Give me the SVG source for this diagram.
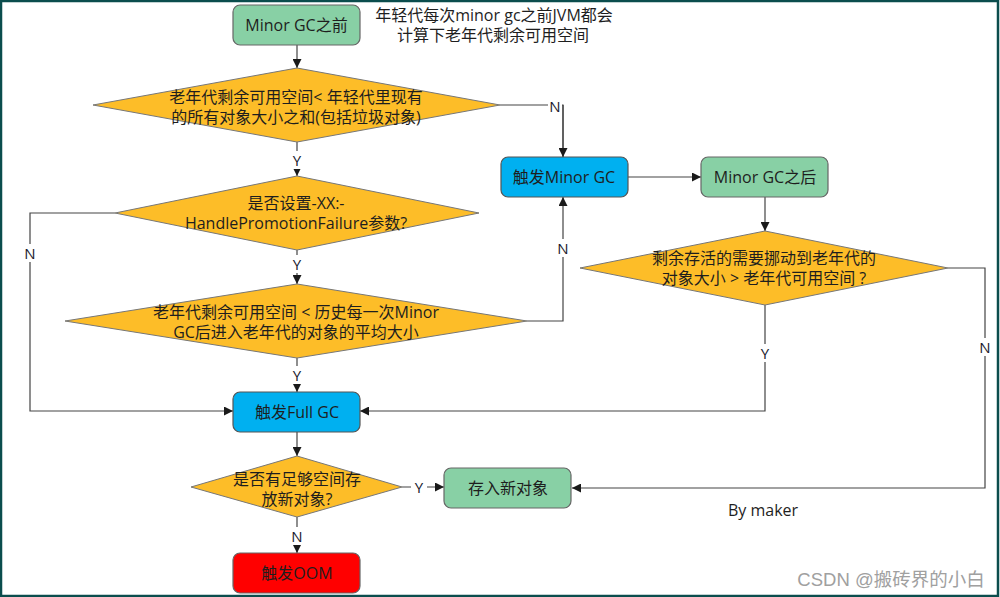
<svg xmlns="http://www.w3.org/2000/svg" width="1000" height="597" viewBox="0 0 1000 597">
<defs>
<marker id="ah" viewBox="0 0 10 10" refX="10" refY="5" markerWidth="9" markerHeight="9" markerUnits="userSpaceOnUse" orient="auto">
<path d="M0,0 L10,5 L0,10 z" fill="#1a1a1a"/>
</marker>
<style>
.t{font-family:"Open Sans","Noto Sans CJK SC",sans-serif;font-size:16px;fill:#1e1e1e;text-anchor:middle;dominant-baseline:central}
.lb{font-family:"Open Sans","Noto Sans CJK SC",sans-serif;font-size:15px;fill:#1a1a2e;text-anchor:middle;dominant-baseline:central}
.g{fill:#88d0a5;stroke:#666;stroke-width:1.2}
.b{fill:#00b0f0;stroke:#555;stroke-width:1.2}
.r{fill:#ff0000;stroke:#666;stroke-width:1.2}
.d{fill:#fdbd28;stroke:#777;stroke-width:1}
.c{fill:none;stroke:#444;stroke-width:1.2}
.a{marker-end:url(#ah)}
</style>
</defs>
<rect x="0" y="0" width="1000" height="597" fill="#ffffff"/>
<rect x="1" y="1" width="997" height="595" fill="none" stroke="#0b4d4d" stroke-width="2.5"/>

<g id="connectors">
<path class="c a" d="M297,45 V68"/>
<path class="c" d="M500,105 H563 V157"/>
<path class="c a" d="M563,105 V157"/>
<path class="c a" d="M297,142 V176"/>
<path class="c a" d="M628,177 H701"/>
<path class="c a" d="M765,197 V231"/>
<path class="c a" d="M297,250 V284"/>
<path class="c a" d="M115,213 H30 V411 H233"/>
<path class="c a" d="M527,321 H563 V197"/>
<path class="c a" d="M297,358 V392"/>
<path class="c a" d="M765,305 V411 H360"/>
<path class="c a" d="M948,268 H985 V488 H572"/>
<path class="c a" d="M297,432 V456"/>
<path class="c a" d="M402,487 H444"/>
<path class="c a" d="M297,517 V553"/>
</g>

<g id="labels">
<rect x="548" y="97" width="14" height="17" fill="#fff"/><text class="lb" x="555" y="106">N</text>
<rect x="289" y="151" width="16" height="18" fill="#fff"/><text class="lb" x="297" y="160">Y</text>
<rect x="22" y="244" width="16" height="18" fill="#fff"/><text class="lb" x="30" y="253">N</text>
<rect x="289" y="255" width="16" height="18" fill="#fff"/><text class="lb" x="297" y="264">Y</text>
<rect x="555" y="239" width="16" height="18" fill="#fff"/><text class="lb" x="563" y="248">N</text>
<rect x="289" y="366" width="16" height="18" fill="#fff"/><text class="lb" x="297" y="375">Y</text>
<rect x="757" y="344" width="16" height="18" fill="#fff"/><text class="lb" x="765" y="353">Y</text>
<rect x="977" y="338" width="16" height="18" fill="#fff"/><text class="lb" x="985" y="347">N</text>
<rect x="411" y="478" width="16" height="18" fill="#fff"/><text class="lb" x="419" y="487">Y</text>
<rect x="289" y="527" width="16" height="18" fill="#fff"/><text class="lb" x="297" y="536">N</text>
</g>

<g id="n_before">
<rect class="g" x="233" y="5" width="127" height="40" rx="7"/>
<text class="t" x="296.5" y="25">Minor GC之前</text>
</g>
<g id="n_note">
<text class="t" x="494" y="15">年轻代每次minor gc之前JVM都会</text>
<text class="t" x="493" y="35">计算下老年代剩余可用空间</text>
</g>
<g id="d1">
<polygon class="d" points="297,68 500,105 297,142 93,105"/>
<text class="t" x="296" y="97">老年代剩余可用空间&lt; 年轻代里现有</text>
<text class="t" x="296" y="117">的所有对象大小之和(包括垃圾对象)</text>
</g>
<g id="n_minor">
<rect class="b" x="501" y="157" width="127" height="40" rx="7"/>
<text class="t" x="564" y="177">触发Minor GC</text>
</g>
<g id="n_after">
<rect class="g" x="701" y="157" width="127" height="40" rx="7"/>
<text class="t" x="765" y="177">Minor GC之后</text>
</g>
<g id="d2">
<polygon class="d" points="297,176 479,213 297,250 115,213"/>
<text class="t" x="296" y="203">是否设置-XX:-</text>
<text class="t" x="296" y="223">HandlePromotionFailure参数?</text>
</g>
<g id="d3">
<polygon class="d" points="765,231 948,268 765,305 580,268"/>
<text class="t" x="764" y="258">剩余存活的需要挪动到老年代的</text>
<text class="t" x="764" y="278">对象大小 &gt; 老年代可用空间 ?</text>
</g>
<g id="d4">
<polygon class="d" points="297,284 527,321 297,358 65,321"/>
<text class="t" x="296" y="312">老年代剩余可用空间 &lt; 历史每一次Minor</text>
<text class="t" x="296" y="332">GC后进入老年代的对象的平均大小</text>
</g>
<g id="n_full">
<rect class="b" x="233" y="392" width="127" height="40" rx="7"/>
<text class="t" x="297" y="412">触发Full GC</text>
</g>
<g id="d5">
<polygon class="d" points="297,456 402,487 297,517 191,487"/>
<text class="t" x="297" y="479">是否有足够空间存</text>
<text class="t" x="297" y="499">放新对象?</text>
</g>
<g id="n_store">
<rect class="g" x="444" y="468" width="127" height="40" rx="7"/>
<text class="t" x="508" y="488">存入新对象</text>
</g>
<g id="n_oom">
<rect class="r" x="233" y="553" width="127" height="40" rx="7"/>
<text class="t" x="297" y="573">触发OOM</text>
</g>
<g id="n_by">
<text class="t" x="763" y="510">By maker</text>
</g>
<g id="watermark">
<text x="891" y="579" font-family="Liberation Sans,'Noto Sans CJK SC',sans-serif" font-size="18.5" fill="#a0a0a0" text-anchor="middle" dominant-baseline="central">CSDN @搬砖界的小白</text>
</g>
</svg>
